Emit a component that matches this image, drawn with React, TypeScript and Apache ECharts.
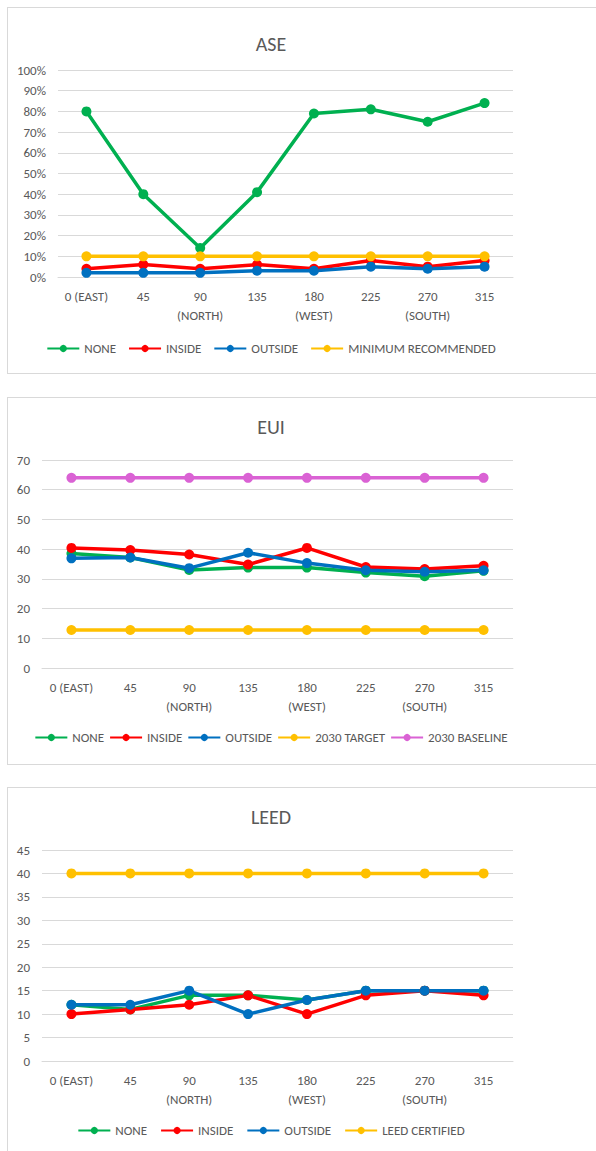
import React, { useEffect, useRef } from "react";
import * as echarts from "echarts";

const categories = ["0 (EAST)", "45", "90\n(NORTH)", "135", "180\n(WEST)", "225", "270\n(SOUTH)", "315"];

// ASE (%)
const aseNone = [80, 40, 14, 41, 79, 81, 75, 84];
const aseInside = [4, 6, 4, 6, 4, 8, 5, 8];
const aseOutside = [2, 2, 2, 3, 3, 5, 4, 5];
const aseMinimum = [10, 10, 10, 10, 10, 10, 10, 10];

// EUI
const euiNone = [38.5, 37.2, 33, 33.8, 33.8, 32.1, 30.9, 32.7];
const euiInside = [40.4, 39.7, 38.2, 34.8, 40.4, 34, 33.3, 34.4];
const euiOutside = [36.9, 37.2, 33.6, 38.8, 35.3, 32.9, 32.4, 32.9];
const euiTarget = [12.8, 12.8, 12.8, 12.8, 12.8, 12.8, 12.8, 12.8];
const euiBaseline = [64, 64, 64, 64, 64, 64, 64, 64];

// LEED
const leedNone = [12, 11, 14, 14, 13, 15, 15, 15];
const leedInside = [10, 11, 12, 14, 10, 14, 15, 14];
const leedOutside = [12, 12, 15, 10, 13, 15, 15, 15];
const leedCertified = [40, 40, 40, 40, 40, 40, 40, 40];

const GREEN = "#00B050";
const RED = "#FF0000";
const BLUE = "#0070C0";
const YELLOW = "#FFC000";
const PINK = "#DA62D4";
const TEXT = "#595959";
const GRID = "#D9D9D9";
const FONT = "Carlito, Lato, sans-serif";

const CW = 542; // chart width so that its centre is at x = 271

type S = { name: string; data: number[]; color: string };

function makeOption(
  title: string,
  titleTop: number,
  grid: { top: number; bottom: number; left: number; right: number },
  legendTop: number,
  legendGap: number,
  yMax: number,
  yInterval: number,
  yFormat: string,
  series: S[]
) {
  return {
    animation: false,
    textStyle: { fontFamily: FONT },
    title: {
      text: title,
      left: "center",
      top: titleTop,
      textStyle: { fontFamily: FONT, fontSize: 20, fontWeight: "normal", color: TEXT },
    },
    legend: {
      top: legendTop,
      left: "center",
      orient: "horizontal",
      itemWidth: 32,
      itemHeight: 9,
      itemGap: legendGap,
      padding: 0,
      textStyle: { fontFamily: FONT, fontSize: 13, color: TEXT },
      data: series.map((s) => s.name),
    },
    grid: { ...grid, containLabel: false },
    xAxis: {
      type: "category",
      data: categories,
      boundaryGap: true,
      axisLine: { show: true, lineStyle: { color: GRID, width: 1 } },
      axisTick: { show: false },
      axisLabel: {
        color: TEXT,
        fontFamily: FONT,
        fontSize: 13,
        lineHeight: 19,
        margin: 10,
        interval: 0,
      },
    },
    yAxis: {
      type: "value",
      min: 0,
      max: yMax,
      interval: yInterval,
      axisLine: { show: false },
      axisTick: { show: false },
      splitLine: { lineStyle: { color: GRID, width: 1 } },
      axisLabel: {
        color: TEXT,
        fontFamily: FONT,
        fontSize: 13,
        margin: 12,
        formatter: yFormat,
      },
    },
    series: series.map((s) => ({
      name: s.name,
      type: "line",
      data: s.data,
      symbol: "circle",
      symbolSize: 10,
      showSymbol: true,
      lineStyle: { color: s.color, width: 3.5 },
      itemStyle: { color: s.color },
      emphasis: { disabled: true },
    })),
  };
}

function Chart({ option, top, height }: { option: any; top: number; height: number }) {
  const ref = useRef<HTMLDivElement>(null);
  useEffect(() => {
    if (!ref.current) return;
    const chart = echarts.init(ref.current, null, { renderer: "svg" });
    chart.setOption(option);
    return () => chart.dispose();
  }, [option]);
  return <div ref={ref} style={{ position: "absolute", left: 0, top, width: CW, height }} />;
}

const aseOption = makeOption(
  "ASE",
  29,
  { top: 70, bottom: 380 - 277, left: 58, right: CW - 513 },
  342,
  12,
  100,
  10,
  "{value}%",
  [
    { name: "NONE", data: aseNone, color: GREEN },
    { name: "INSIDE", data: aseInside, color: RED },
    { name: "OUTSIDE", data: aseOutside, color: BLUE },
    { name: "MINIMUM RECOMMENDED", data: aseMinimum, color: YELLOW },
  ]
);

const euiTop = 390;
const euiOption = makeOption(
  "EUI",
  425 - euiTop - 13,
  { top: 460 - euiTop, bottom: 770 - 668, left: 42, right: CW - 513 },
  739 - euiTop - 8,
  5,
  70,
  10,
  "{value}",
  [
    { name: "NONE", data: euiNone, color: GREEN },
    { name: "INSIDE", data: euiInside, color: RED },
    { name: "OUTSIDE", data: euiOutside, color: BLUE },
    { name: "2030 TARGET", data: euiTarget, color: YELLOW },
    { name: "2030 BASELINE", data: euiBaseline, color: PINK },
  ]
);

const leedTop = 780;
const leedOption = makeOption(
  "LEED",
  815 - leedTop - 13,
  { top: 850 - leedTop, bottom: 1151 - 1061, left: 42, right: CW - 513 },
  1132 - leedTop - 8,
  13,
  45,
  5,
  "{value}",
  [
    { name: "NONE", data: leedNone, color: GREEN },
    { name: "INSIDE", data: leedInside, color: RED },
    { name: "OUTSIDE", data: leedOutside, color: BLUE },
    { name: "LEED CERTIFIED", data: leedCertified, color: YELLOW },
  ]
);

const borderStyle = (top: number, height: number): React.CSSProperties => ({
  position: "absolute",
  left: 7,
  top,
  width: 700,
  height,
  border: "1px solid #D9D9D9",
  boxSizing: "border-box",
  background: "#fff",
});

export default function App() {
  return (
    <div
      style={{
        position: "fixed",
        left: 0,
        top: 0,
        width: 596,
        height: 1151,
        overflow: "hidden",
        background: "#fff",
      }}
    >
      <div style={borderStyle(7, 367)} />
      <div style={borderStyle(397, 368)} />
      <div style={borderStyle(787, 400)} />
      <Chart option={aseOption} top={0} height={380} />
      <Chart option={euiOption} top={euiTop} height={380} />
      <Chart option={leedOption} top={leedTop} height={371} />
    </div>
  );
}
